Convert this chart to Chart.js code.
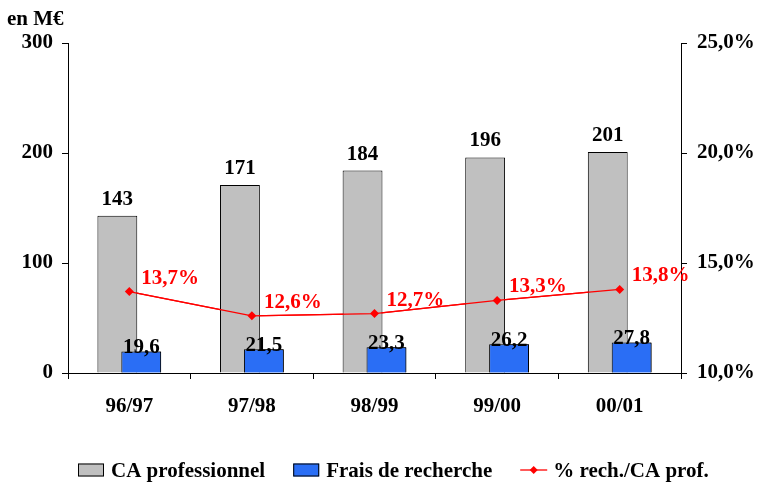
<!DOCTYPE html>
<html>
<head>
<meta charset="utf-8">
<script src="https://cdn.jsdelivr.net/npm/chart.js@4.4.1/dist/chart.umd.min.js"></script>
<style>
  html, body { margin: 0; padding: 0; background: #fff; }
  #wrap { width: 759px; height: 483px; }
</style>
</head>
<body>
<div id="wrap"><canvas id="c" width="759" height="483"></canvas></div>
<script>
// -------- data --------
const years      = ['96/97', '97/98', '98/99', '99/00', '00/01'];
const caPro      = [143, 171, 184, 196, 201];        // CA professionnel, M€
const fraisRech  = [19.6, 21.5, 23.3, 26.2, 27.8];   // Frais de recherche, M€
const pctRech    = [13.7, 12.6, 12.7, 13.3, 13.8];   // % rech./CA prof.
const leftTicks  = [0, 100, 200, 300];
const rightTicks = [10, 15, 20, 25];

const FONT  = '"Liberation Serif", "Times New Roman", serif';
const GREY  = '#c0c0c0';
const BLUE  = '#2a6ef5';
const RED   = '#ff0000';

// french decimal comma
const fr = (v, d) => v.toFixed(d).replace('.', ',');

Chart.defaults.font.family = FONT;
Chart.defaults.font.size = 21;
Chart.defaults.font.weight = 'bold';
Chart.defaults.color = '#000';

// Labels, title, legend + keep blue bars above the grey ones
const overlay = {
  id: 'overlay',
  afterDatasetsDraw(chart) {
    // grey is grouped on the left but the blue bars overlap it: paint blue (and the line) again on top
    chart.getDatasetMeta(1).controller.draw();
    chart.getDatasetMeta(2).controller.draw();
  },
  afterDraw(chart) {
    const ctx = chart.ctx;
    ctx.save();
    ctx.font = `bold 21px ${FONT}`;
    ctx.textBaseline = 'alphabetic';

    // value labels
    ctx.fillStyle = '#000';
    ctx.textAlign = 'center';
    chart.getDatasetMeta(0).data.forEach((el, i) => ctx.fillText(String(caPro[i]), el.x, el.y - 11));
    chart.getDatasetMeta(1).data.forEach((el, i) => ctx.fillText(fr(fraisRech[i], 1), el.x, el.y + 2));
    ctx.fillStyle = RED;
    ctx.textAlign = 'left';
    chart.getDatasetMeta(2).data.forEach((el, i) => ctx.fillText(fr(pctRech[i], 1) + '%', el.x + 12, el.y - 8));

    // unit title
    ctx.fillStyle = '#000';
    ctx.fillText('en M€', 7, 25);

    // legend
    const yMid = 470;
    let x = 78;
    chart.data.datasets.forEach(ds => {
      if (ds.type === 'line') {
        ctx.strokeStyle = RED;
        ctx.lineWidth = 1.3;
        ctx.beginPath(); ctx.moveTo(x, yMid); ctx.lineTo(x + 27, yMid); ctx.stroke();
        ctx.fillStyle = RED;
        ctx.beginPath();
        ctx.moveTo(x + 13.5, yMid - 4); ctx.lineTo(x + 17.5, yMid);
        ctx.lineTo(x + 13.5, yMid + 4); ctx.lineTo(x + 9.5, yMid);
        ctx.closePath(); ctx.fill();
      } else {
        ctx.fillStyle = ds.backgroundColor;
        ctx.fillRect(x, yMid - 6.5, 26, 13);
        ctx.strokeStyle = '#000';
        ctx.lineWidth = 1;
        ctx.strokeRect(x + 0.5, yMid - 6, 25, 12);
      }
      x += 33;
      ctx.fillStyle = '#000';
      ctx.fillText(ds.label, x, 477);
      x += ctx.measureText(ds.label).width + 28;
    });
    ctx.restore();
  }
};

new Chart(document.getElementById('c'), {
  data: {
    labels: years,
    datasets: [
      {
        type: 'bar', label: 'CA professionnel', data: caPro, yAxisID: 'y',
        backgroundColor: GREY, borderColor: '#000', borderWidth: 1,
        categoryPercentage: 0.39, barPercentage: 1.667
      },
      {
        type: 'bar', label: 'Frais de recherche', data: fraisRech, yAxisID: 'y',
        backgroundColor: BLUE, borderColor: '#000', borderWidth: 1,
        categoryPercentage: 0.39, barPercentage: 1.667
      },
      {
        type: 'line', label: '% rech./CA prof.', data: pctRech, yAxisID: 'y1',
        borderColor: RED, borderWidth: 1.3, tension: 0,
        pointStyle: 'rectRot', pointRadius: 4.5, pointBackgroundColor: RED, pointBorderWidth: 0
      }
    ]
  },
  options: {
    responsive: false,
    animation: false,
    devicePixelRatio: 1,
    layout: { padding: { top: 43, left: 0, right: 0, bottom: 0 } },
    plugins: { legend: { display: false }, tooltip: { enabled: false } },
    scales: {
      x: {
        grid: { offset: true, drawOnChartArea: false, color: '#000', tickLength: 6 },
        border: { color: '#000', width: 1 },
        ticks: { padding: 15 },
        afterFit(s) { s.height = 110; }
      },
      y: {
        position: 'left', min: 0, max: 300,
        grid: { drawOnChartArea: false, color: '#000', tickLength: 6 },
        border: { color: '#000', width: 1 },
        ticks: { padding: 9, autoSkip: false },
        afterBuildTicks(s) { s.ticks = leftTicks.map(v => ({ value: v })); },
        afterFit(s) { s.width = 68; }
      },
      y1: {
        position: 'right', min: 10, max: 25,
        grid: { drawOnChartArea: false, color: '#000', tickLength: 6 },
        border: { color: '#000', width: 1 },
        ticks: { padding: 10, autoSkip: false, callback: v => fr(v, 1) + '%' },
        afterBuildTicks(s) { s.ticks = rightTicks.map(v => ({ value: v })); },
        afterFit(s) { s.width = 78; }
      }
    }
  },
  plugins: [overlay]
});
</script>
</body>
</html>
